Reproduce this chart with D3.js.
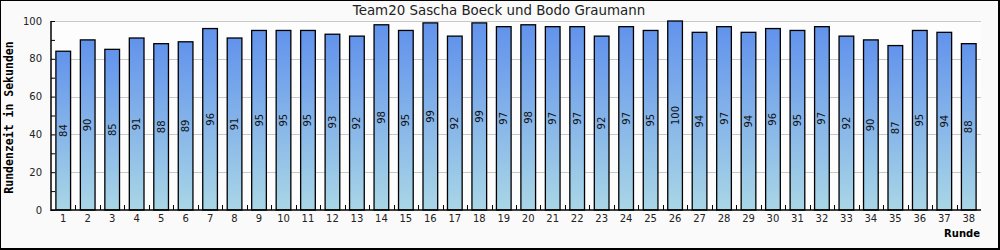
<!DOCTYPE html>
<html>
<head>
<meta charset="utf-8">
<script src="https://cdn.jsdelivr.net/npm/d3@7"></script>
<style>
  body { margin: 0; background: #fff; }
  svg { display: block; }
</style>
</head>
<body>
<div id="chart"></div>
<script>
// Rundenzeiten pro Runde
const rounds = d3.range(1, 39).map(String);
const lapTimes = [84, 90, 85, 91, 88, 89, 96, 91, 95, 95, 95, 93, 92, 98, 95, 99, 92, 99, 97, 98,
                  97, 97, 92, 97, 95, 100, 94, 97, 94, 96, 95, 97, 92, 90, 87, 95, 94, 88];
const yMajorTicks = [0, 20, 40, 60, 80, 100];
const yMinorTicks = [10, 30, 50, 70, 90];

const W = 1000, H = 250;
const margin = { top: 21, right: 19, bottom: 40, left: 51 };

const svg = d3.select("#chart").append("svg")
    .attr("width", W)
    .attr("height", H);

// background + frame
svg.append("rect").attr("x", 0).attr("y", 0).attr("width", W).attr("height", H).attr("fill", "#fafafa");

const defs = svg.append("defs");
const grad = defs.append("linearGradient")
    .attr("id", "barGrad")
    .attr("x1", 0).attr("y1", 0).attr("x2", 0).attr("y2", 1);
grad.append("stop").attr("offset", "0%").attr("stop-color", "#6293ec");
grad.append("stop").attr("offset", "100%").attr("stop-color", "#a9d6e6");

const x = d3.scaleBand()
    .domain(rounds)
    .range([margin.left, W - margin.right])
    .paddingInner(0.4)
    .paddingOuter(0.2);

const y = d3.scaleLinear()
    .domain([0, 100])
    .range([H - margin.bottom, margin.top]);

// plot area
svg.append("rect")
    .attr("x", margin.left)
    .attr("y", margin.top)
    .attr("width", W - margin.right - margin.left)
    .attr("height", H - margin.bottom - margin.top)
    .attr("fill", "#fdfdfd");

// grid lines
svg.append("g").selectAll("line")
    .data(yMajorTicks.filter(d => d > 0))
    .join("line")
    .attr("x1", margin.left + 4)
    .attr("x2", W - margin.right)
    .attr("y1", d => Math.round(y(d)) + 0.5)
    .attr("y2", d => Math.round(y(d)) + 0.5)
    .attr("stroke", "#c8c8c8")
    .attr("stroke-width", 1);

// title
svg.append("text")
    .attr("x", W / 2 - 1)
    .attr("y", 15)
    .attr("text-anchor", "middle")
    .style("font-family", "DejaVu Sans")
    .style("font-size", "13.4px")
    .attr("fill", "#222")
    .text("Team20 Sascha Boeck und Bodo Graumann");

// bars
svg.append("g").selectAll("rect")
    .data(lapTimes)
    .join("rect")
    .attr("x", (d, i) => x(rounds[i]))
    .attr("y", d => y(d))
    .attr("width", x.bandwidth())
    .attr("height", d => y(0) - y(d))
    .attr("fill", "url(#barGrad)")
    .attr("stroke", "#000")
    .attr("stroke-width", 1.3);

// value labels, rotated, centred in each bar
svg.append("g").selectAll("text")
    .data(lapTimes)
    .join("text")
    .attr("transform", (d, i) => `translate(${x(rounds[i]) + x.bandwidth() / 2 + 3.5},${(y(d) + y(0)) / 2}) rotate(-90)`)
    .attr("text-anchor", "middle")
    .style("font-family", "DejaVu Sans")
    .style("font-size", "10px")
    .attr("fill", "#111")
    .text(d => d);

// y axis
const yAxis = svg.append("g")
    .attr("transform", `translate(${margin.left},0)`)
    .call(d3.axisRight(y).tickValues(yMajorTicks).tickSize(4).tickFormat(""));
yAxis.selectAll("line").attr("stroke", "#000");
yAxis.select(".domain").remove();
svg.append("g")
    .attr("transform", `translate(${margin.left},0)`)
    .call(d3.axisRight(y).tickValues(yMinorTicks).tickSize(4).tickFormat(""))
    .call(g => g.select(".domain").remove())
    .selectAll("line").attr("stroke", "#000");

svg.append("g").selectAll("text")
    .data(yMajorTicks)
    .join("text")
    .attr("x", margin.left - 9)
    .attr("y", d => y(d) + 3.5)
    .attr("text-anchor", "end")
    .style("font-family", "DejaVu Sans")
    .style("font-size", "10px")
    .attr("fill", "#222")
    .text(d => d);

// x axis: ticks at category boundaries, labels centred under bars
const step = x.step();
const boundaries = rounds.slice(1).map(r => x(r) - x.paddingInner() * step / 2);
svg.append("g").selectAll("line")
    .data(boundaries)
    .join("line")
    .attr("x1", d => Math.round(d) + 0.5)
    .attr("x2", d => Math.round(d) + 0.5)
    .attr("y1", y(0) - 5)
    .attr("y2", y(0))
    .attr("stroke", "#000");

svg.append("g").selectAll("text")
    .data(rounds)
    .join("text")
    .attr("x", d => x(d) + x.bandwidth() / 2)
    .attr("y", y(0) + 12)
    .attr("text-anchor", "middle")
    .style("font-family", "DejaVu Sans")
    .style("font-size", "10px")
    .attr("fill", "#222")
    .text(d => d);

// axis lines
svg.append("line")
    .attr("x1", margin.left).attr("x2", margin.left)
    .attr("y1", margin.top).attr("y2", y(0) + 1)
    .attr("stroke", "#000").attr("stroke-width", 1.5);
svg.append("line")
    .attr("x1", margin.left).attr("x2", W - margin.right)
    .attr("y1", y(0)).attr("y2", y(0))
    .attr("stroke", "#000").attr("stroke-width", 1.5);

// axis titles
svg.append("text")
    .attr("transform", `translate(13,${(margin.top + y(0)) / 2 + 2}) rotate(-90)`)
    .attr("text-anchor", "middle")
    .style("font-family", "DejaVu Sans Mono")
    .style("font-weight", "bold")
    .style("font-size", "11.5px")
    .attr("fill", "#000")
    .text("Rundenzeit in Sekunden");

svg.append("text")
    .attr("x", W - margin.right - 1)
    .attr("y", 237)
    .attr("text-anchor", "end")
    .style("font-family", "DejaVu Sans")
    .style("font-weight", "bold")
    .style("font-size", "10px")
    .attr("fill", "#000")
    .text("Runde");

// frame (thicker on right/bottom)
svg.append("rect")
    .attr("x", 0.5).attr("y", 0.5)
    .attr("width", W - 2).attr("height", H - 2)
    .attr("fill", "none").attr("stroke", "#000");
svg.append("path")
    .attr("d", `M${W - 1},0V${H - 1}H0`)
    .attr("fill", "none").attr("stroke", "#000").attr("stroke-width", 2);
</script>
</body>
</html>
